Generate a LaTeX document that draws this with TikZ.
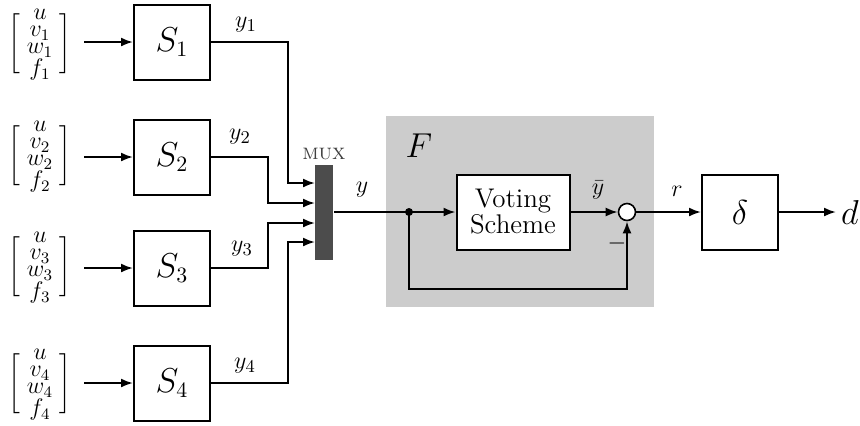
\documentclass[tikz,border=0pt]{standalone}
\usetikzlibrary{arrows.meta}
\begin{document}
\begin{tikzpicture}[x=0.5pt,y=-0.5pt,
  line width=1pt,
  arr/.style={-{Latex[length=6pt,width=4.5pt]}},
  blk/.style={draw,fill=white,minimum width=38pt,minimum height=37.5pt,inner sep=0pt},
  vec/.style={inner sep=0pt,font=\fontsize{11.5}{13}\selectfont},
  lbl/.style={font=\fontsize{13}{15}\selectfont},
  big/.style={font=\fontsize{16}{18}\selectfont},
]
\useasboundingbox (0,0) rectangle (860,425);

% shaded fault-detection part
\fill[gray!40] (386,116) rectangle (654,307);
\node[big] (F) at (419,146) {$F$};

% input vectors
\newcommand{\invec}[1]{$\delimiterfactor=800\delimitershortfall=9pt\renewcommand{\arraystretch}{0.67}\left[\begin{array}{@{\;}c@{\;}}u\\ v_{#1}\\ w_{#1}\\ f_{#1}\end{array}\right]$}
\node[vec] (v1) at (40,44) {\invec{1}};
\node[vec] (v2) at (40,156) {\invec{2}};
\node[vec] (v3) at (40,267) {\invec{3}};
\node[vec] (v4) at (40,384) {\invec{4}};

% subsystems
\node[blk,big] (s1) at (172,42) {$S_1$};
\node[blk,big] (s2) at (172,157) {$S_2$};
\node[blk,big] (s3) at (172,268) {$S_3$};
\node[blk,big] (s4) at (172,383) {$S_4$};

\foreach \i in {1,...,4}{
  \draw[arr] ([xshift=6pt]v\i.east |- s\i.west) -- (s\i.west);
}

% multiplexer
\node[fill=black!70,minimum width=9pt,minimum height=47.5pt,inner sep=0pt] (mux) at (324,212) {};
\node[font=\fontsize{11}{13}\selectfont,text=black!75] (muxl) at (324,154) {\textsc{mux}};
\coordinate (in1) at (315,183);
\coordinate (in2) at (315,203);
\coordinate (in3) at (315,223);
\coordinate (in4) at (315,242);

\draw[arr] (s1.east) -- ++(77,0) |- (in1);
\draw[arr] (s2.east) -- ++(57,0) |- (in2);
\draw[arr] (s3.east) -- ++(57,0) |- (in3);
\draw[arr] (s4.east) -- ++(77,0) |- (in4);

\node[lbl] (y1) at (246,25) {$y_1$};
\node[lbl] (y2) at (240,137) {$y_2$};
\node[lbl] (y3) at (242,249) {$y_3$};
\node[lbl] (y4) at (245,366) {$y_4$};

% voting and residual
\coordinate (dot) at (409,212);
\fill (dot) circle (2pt);
\node[blk,minimum width=56.5pt,font=\fontsize{13.5}{15}\selectfont,align=center] (vote) at (513,212) {Voting\\[-2pt]Scheme};
\node[draw,circle,fill=white,minimum size=8.5pt,inner sep=0pt,line width=0.8pt] (sum) at (627,212) {};
\node[blk,big] (delta) at (740,212) {$\delta$};
\coordinate (out) at (836,212);

\draw (mux.east) -- (dot);
\draw[arr] (dot) -- (vote.west);
\draw[arr] (vote.east) -- (sum.west);
\draw[arr] (dot) -- ++(0,77) -| (sum.south);
\draw[arr] (sum.east) -- (delta.west);
\draw[arr] (delta.east) -- (out);

\node[lbl] (yl) at (362,190) {$y$};
\node[lbl] (ybar) at (598,190) {$\bar y$};
\node[lbl] (rl) at (677,191) {$r$};
\node[lbl] (minus) at (617,243) {$-$};
\node[big,anchor=west,inner sep=1pt] (dl) at (838,212) {$d$};
\end{tikzpicture}
\end{document}
